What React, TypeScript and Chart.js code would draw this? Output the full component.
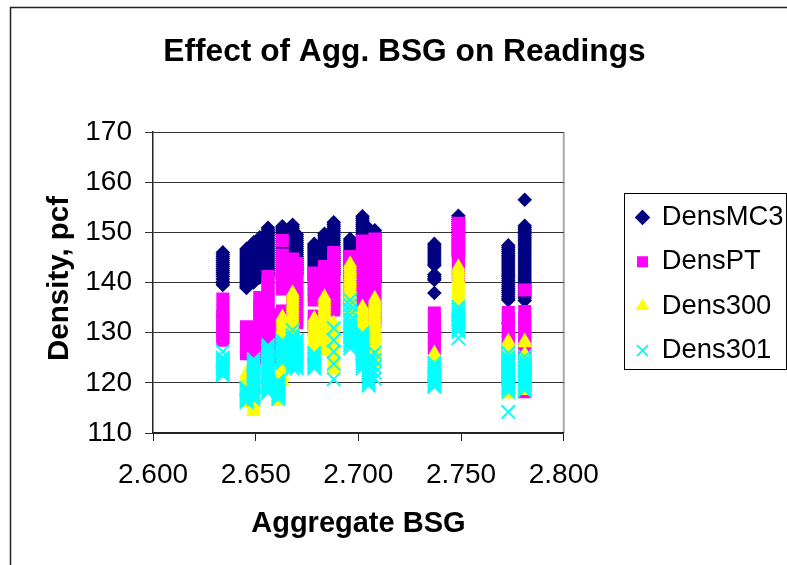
import React, { useEffect, useRef } from "react";
import { Chart, registerables } from "chart.js";

Chart.register(...registerables);

const titleText = "Effect of Agg. BSG on Readings";
const xTitle = "Aggregate BSG";
const yTitle = "Density, pcf";

const bsgColumns = [2.634, 2.6455, 2.649, 2.652, 2.656, 2.659, 2.661, 2.663, 2.668, 2.67, 2.6785, 2.6835, 2.688, 2.696, 2.702, 2.705, 2.708, 2.737, 2.7487, 2.773, 2.781];

const densMC3 = [
  [146, 145.6, 145.2, 144.8, 144.4, 144, 143.6, 143.2, 142.8, 142.4, 142, 141.6, 141.2, 140.7, 140.2, 139.9, 139.5],
  [146.7, 146.3, 145.9, 145.5, 145.1, 144.7, 144.3, 143.9, 143.5, 143.1, 142.7, 142.3, 141.9, 141.5, 141.1, 140.7, 140.3, 139.9, 139.5, 139.2, 138.9],
  [148, 147.6, 147.2, 146.8, 146.4, 146, 145.6, 145.2, 144.8, 144.4, 144, 143.6, 143.2, 142.8, 142.4, 142, 141.6, 141.2, 140.8, 140.4, 140],
  [149, 148.6, 148.2, 147.8, 147.4, 147, 146.6, 146.2, 145.8, 145.4, 145, 144.6, 144.2, 143.8, 143.4, 143, 142.6, 142.2, 141.8, 141.4, 141],
  [150.9, 150.5, 150.1, 149.7, 149.3, 148.9, 148.5, 148.1, 147.7, 147.3, 146.9, 146.5, 146.1, 145.7, 145.3, 144.9, 144.5, 144.1, 143.7, 143.3, 142.9, 142.5, 142.1, 141.7, 141.3],
  [],
  [],
  [151.2, 150.8, 150.4, 150, 149.6, 149.2, 148.8, 148.4, 148, 147.6, 147.2, 146.8, 146.4, 146, 145.6, 145.2, 144.8, 144.4, 144, 143.6, 143.2, 142.8, 142.4, 142, 141.6, 141.2, 140.8],
  [151.5, 151.1, 150.7, 150.3, 149.9, 149.5, 149.1, 148.7, 148.3, 147.9, 147.5, 147.1, 146.7, 146.3, 145.9, 145.5, 145.1, 144.7, 144.3, 143.9, 143.5, 143.1, 142.7, 142.3, 141.9, 141.5, 141],
  [149.6, 149.2, 148.8, 148.4, 148, 147.6, 147.2, 146.8, 146.4, 146, 145.6, 145.2, 144.8, 144.4, 144, 143.6, 143.2, 142.8, 142.4, 142, 141.6],
  [147.7, 147.3, 146.9, 146.5, 146.1, 145.7, 145.3, 144.9, 144.5, 144.1, 143.7, 143.3, 142.9, 142.5, 142.1, 141.7, 141.3, 140.9, 140.5],
  [149.7, 149.3, 148.9, 148.5, 148.1, 147.7, 147.3, 146.9, 146.5, 146.1, 145.7, 145.3, 144.9, 144.5, 144.1, 143.7, 143.3, 142.9, 142.5, 142.1, 141.7],
  [152, 151.6, 151.2, 150.8, 150.4, 150, 149.6, 149.2, 148.8, 148.4, 148, 147.6, 147.2, 146.8, 146.4, 146, 145.6, 145.2, 144.8, 144.4, 144, 143.6, 143.2, 142.8, 142.4, 142, 141.6],
  [148.7, 148.3, 147.9, 147.5, 147.1, 146.7, 146.3, 145.9, 145.5, 145.1, 144.7, 144.3, 143.9, 143.5, 143.1, 142.7, 142.3, 141.9, 141.5, 141.1, 140.7],
  [153.2, 152.8, 152.4, 152, 151.6, 151.2, 150.8, 150.4, 150, 149.6, 149.2, 148.8, 148.4, 148, 147.6, 147.2, 146.8, 146.4, 146, 145.6, 145.2, 144.8, 144.4, 144, 143.6, 143.2, 142.8, 142.4, 142],
  [150.8, 150.4, 150, 149.6, 149.2, 148.8, 148.4, 148, 147.6, 147.2, 146.8, 146.4, 146],
  [150.4, 150, 149.6, 149.2, 148.8, 148.4, 148, 147.6, 147.2, 146.8, 146.4, 146, 145.6, 145.2, 144.8, 144.4, 144, 143.6, 143.2, 142.8, 142.4, 142, 141.6, 141.2, 140.8, 140.4, 140.2],
  [147.7, 147.3, 146.9, 146.5, 146.1, 145.7, 145.3, 144.9, 144.5, 144.1, 143.7, 143.4, 141.6, 141.2, 140.8, 140.5, 137.9],
  [153.3, 152.9, 152.5, 152.1, 151.7, 151.3, 150.9, 150.5, 150.1, 149.7, 149.3, 148.9, 148.5, 148.1, 147.7, 147.3, 146.9, 146.5, 146.1, 145.7, 145.3],
  [147.4, 147, 146.6, 146.2, 145.8, 145.4, 145.1, 144.7, 144.3, 143.9, 143.5, 143.1, 142.7, 142.3, 141.9, 141.5, 141.2, 140.8, 140.4, 140, 139.6, 139.2, 138.8, 138.4, 138, 137.6, 137.2, 136.8, 136.5, 131.9],
  [156.5, 151.3, 150.9, 150.5, 150.1, 149.7, 149.3, 148.9, 148.5, 148.1, 147.7, 147.3, 146.9, 146.5, 146.1, 145.7, 145.3, 144.9, 144.5, 144.1, 143.7, 143.3, 142.9, 142.5, 142.1, 141.7, 141.3, 140.9, 140.5, 140.1, 139.7, 139.3, 138.9, 138.5, 138.1, 137.7, 137.3, 136.9, 136.4],
];

const densPT = [
  [136.7, 134.3, 133.3, 132.3, 131.3, 130.3, 129.3, 128.5],
  [131.2, 130.2, 129.2, 128.2, 127.2, 126.4, 125.8],
  [131, 129, 127, 125.2, 124, 123, 122.1],
  [137, 135.8, 134.6, 133.4, 132.2, 131, 129.8, 128.6, 127.4, 126.2, 125],
  [141.2, 140, 138.8, 137.6, 136.4, 135.2, 134, 132.8, 131.6, 130.4, 129.2, 128],
  [133.5, 132, 130.5, 129, 127.5, 126, 125],
  [],
  [148.4, 145.5, 144.3, 143.1, 141.9, 140.7, 139.5, 138.7, 134.3, 133, 131.7, 130.4, 129.1, 127.8, 126.5, 125.2],
  [144.7, 143.5, 142.3, 141.1, 139.9, 138.7, 137.5, 136.3, 135.1, 133.9, 132.7, 131.5, 130.3],
  [143.8, 142.6, 141.4, 140.2, 139, 137.8, 136.6, 135.4, 134.2, 133, 132],
  [141.9, 140.8, 139.7, 138.6, 137.5, 136.5, 133.3, 132, 130.8],
  [143.2, 142, 140.8, 139.6, 138.4, 137.2, 136.5],
  [146, 144.8, 143.6, 142.4, 141.2, 140, 138.8, 137.6, 136.4, 135.2, 134.5],
  [145.2, 144, 142.8, 141.6, 140.4, 139.2, 138, 136.8, 135.6, 135],
  [148.3, 147.1, 145.9, 144.7, 143.5, 142.3, 141.1, 139.9, 138.7, 137.5, 136.3],
  [],
  [148.7, 147.5, 146.3, 145.1, 143.9, 142.7, 141.5, 140.3, 139.1, 137.9, 136.7, 135.5, 134.3, 133.1, 132.2],
  [133.9, 132.7, 131.5, 130.3, 129.1, 127.9, 126.7],
  [151.8, 150.6, 149.4, 148.2, 147, 145.8, 144.6, 143.4, 142.2, 141.4],
  [134, 132.8, 131.6, 130.4, 129.2, 128, 126.8, 125.6, 124.4, 123.2, 122, 120.8, 120.4],
  [138.5, 134.2, 133, 131.8, 130.6, 129.4, 128.2, 127, 125.8, 124.6, 123.4, 122.2, 121, 119.8, 118.6, 118.2],
];

const dens300 = [
  [],
  [122, 121.4, 120.8, 120.2, 119.6, 119, 118.4, 117.8, 117.2, 116.6, 116],
  [122, 121.4, 120.8, 120.2, 119.6, 119, 118.4, 117.8, 117.2, 116.6, 116, 115.4, 114.8, 114.2],
  [],
  [121.6, 121.1, 120.6, 120.2, 119.8],
  [],
  [121, 120.5, 120, 119.5, 119, 118.5, 118, 117.5, 117, 116.6, 116.2],
  [133.2, 132.7, 132.2, 131.7, 131.2, 130.7, 130.2, 129.7, 129.2, 128.7, 128.2, 127.7, 127.2, 126.7, 126.2, 125.7, 125.2, 124.6, 124, 123.4, 122.8, 122.2, 121.6, 121, 120.4],
  [138, 137.5, 137, 136.5, 136, 135.5, 135, 134.5, 134, 133.5, 133, 132.5, 132, 131.5, 131, 130.5, 130, 129.5, 129, 128.5, 128, 127.5, 127, 126.5, 126, 125.5, 125],
  [],
  [132.9, 132.4, 131.9, 131.4, 130.9, 130.4, 129.9, 129.4, 128.9, 128.4, 128, 127.5, 127.1, 126.6, 126.2, 125.8, 125.4],
  [137.2, 136.7, 136.2, 135.7, 135.2, 134.7, 134.2, 133.7, 133.2, 132.7, 132.2, 131.7, 131.2, 130.7, 130.2, 129.7, 129.2, 128.7, 128.2, 127.7, 127.2, 126.7, 126.2],
  [132, 131.5, 131, 130.5, 130, 129.5, 129, 128.5, 128, 127.5, 127, 126.5, 126, 125.5, 125, 124.5, 124, 123.5, 123, 122.5],
  [143.8, 143.3, 142.8, 142.3, 141.8, 141.3, 140.8, 140.3, 139.8, 139.3, 138.8, 138.3, 137.8, 137.3, 136.8, 136.3, 135.8, 135.3, 134.8, 134.3, 133.8, 133.3, 132.8, 132.3, 131.8, 131.3, 130.8],
  [135.2, 134.7, 134.2, 133.7, 133.2, 132.7, 132.2, 131.7, 131.2, 130.7, 130.2, 129.7, 129.2, 128.7, 128.2],
  [],
  [136.9, 136.4, 135.9, 135.4, 134.9, 134.4, 133.9, 133.4, 132.9, 132.4, 131.9, 131.4, 130.9, 130.4, 129.9, 129.4, 129, 128.5, 128, 127.5, 127, 126.5, 126, 125.5, 125, 124.5, 124],
  [126, 125.5, 125, 124.5, 124, 123.5, 123, 122.6, 122.2],
  [143.2, 142.7, 142.2, 141.7, 141.2, 140.7, 140.2, 139.8, 139.4, 139, 138.6, 138.2, 137.8, 137.4, 137.1, 136.7, 136.3],
  [128.4, 127.9, 127.4, 126.9, 126.4, 125.9, 125.4, 124.9, 124.4, 123.9, 123.4, 122.9, 122.4, 121.9, 121.4, 120.9, 120.4, 119.9, 119.4, 118.9, 118.4, 118, 117.7],
  [128.4, 127.9, 125.8, 125.3, 124.8, 124.3, 123.8, 123.3, 122.8, 122.3, 121.8, 121.3, 120.8, 120.3, 119.8, 119.3, 118.8, 118.4],
];

const dens301 = [
  [126.2, 125, 124.6, 124.2, 123.8, 123.4, 123, 122.6, 122.2, 121.8, 121.5],
  [119, 118.6, 118.2, 117.8, 117.4, 117, 116.6, 116.2],
  [124.7, 124.2, 123.7, 123.2, 122.7, 122.2, 121.7, 121.2, 120.7, 120.2, 119.7, 119.2, 118.7, 118.2, 117.7, 117.2, 116.7],
  [],
  [127.5, 127, 126.5, 126, 125.5, 125, 124.5, 124, 123.5, 123, 122.5, 122, 121.5, 121, 120.5, 120, 119.6, 119.2, 118.8, 118.4, 118],
  [],
  [120.5, 120.1, 119.7, 119.3, 118.9, 118.5, 118.1, 117.7, 117.3, 116.8],
  [128.5, 128, 127.5, 127, 126.5, 126, 125.6, 125.2, 124.8, 124.4, 124],
  [130.5, 129.5, 128.9, 128.4, 127.9, 127.4, 126.9, 126.4, 125.9, 125.4, 124.9, 124.4, 123.9, 123.4, 122.9],
  [128.5, 127.9, 127.4, 126.9, 126.4, 125.9, 125.4, 124.9, 124.4, 123.9, 123.4, 122.9],
  [125.9, 125.4, 124.9, 124.5, 124.1, 123.7, 123.3, 122.9],
  [],
  [130.9, 128.5, 126.2, 123.8, 120.7],
  [136.5, 135.5, 134.5, 133.5, 132.5, 132, 131.5, 131, 130.5, 130, 129.5, 129, 128.5, 128, 127.5, 126.9],
  [129.9, 129.4, 128.9, 128.4, 127.9, 127.4, 126.9, 126.4, 125.9, 125.4, 124.9, 124.4, 123.9, 123.4, 122.9],
  [125, 124.5, 124, 123.5, 123, 122.5, 122, 121.5, 121, 120.5, 120, 119.5],
  [126, 124.6, 123.2, 122, 120.8],
  [123.9, 123.4, 122.9, 122.4, 121.9, 121.4, 120.9, 120.4, 119.9, 119.5, 119.2],
  [135.1, 134.6, 134.1, 133.6, 133.1, 132.6, 132.1, 131.6, 131.1, 130.6, 130.2, 128.9],
  [125.9, 125, 124.5, 124, 123.5, 123, 122.5, 122, 121.5, 121, 120.5, 120, 119.5, 119.1, 118.7, 118.2, 114.2],
  [125.2, 124.5, 124, 123.5, 123, 122.5, 122, 121.5, 121, 120.5, 120, 119.5, 119, 118.5],
];

const yTicks = { min: 110, max: 170, step: 10 };
const xTicks = { min: 2.6, max: 2.8, step: 0.05 };

const toPoints = (cols: number[][]) =>
  cols.flatMap((vals, i) => vals.map((y) => ({ x: bsgColumns[i], y })));

const FONT = "'Liberation Sans', Arial, sans-serif";

const framePlugin = {
  id: "frame",
  beforeDraw(chart: any) {
    const c = chart.ctx;
    c.save();
    c.strokeStyle = "#222";
    c.lineWidth = 1.5;
    c.beginPath();
    c.moveTo(10.5, 565);
    c.lineTo(10.5, 7.5);
    c.lineTo(787, 7.5);
    c.stroke();
    const a = chart.chartArea;
    c.strokeStyle = "#aaa";
    c.lineWidth = 2;
    c.beginPath();
    c.moveTo(a.right, a.top);
    c.lineTo(a.right, a.bottom);
    c.stroke();
    c.restore();
  },
  afterLayout(chart: any) {
    chart.legend.left = 620;
    chart.legend.right = 787;
    chart.legend.top += 1.5;
    chart.legend.bottom += 1.5;
  },
  afterDraw(chart: any) {
    const c = chart.ctx;
    c.save();
    c.strokeStyle = "#000";
    c.lineWidth = 1;
    c.strokeRect(624.5, 193.5, 162, 176);
    c.restore();
  },
};

export default function App() {
  const ref = useRef<HTMLCanvasElement>(null);
  useEffect(() => {
    document.body.style.margin = "0";
    const mk = (label: string, cols: number[][], style: string, color: string, radius: number, bw: number, order: number) => ({
      label,
      data: toPoints(cols),
      pointStyle: style,
      pointRadius: radius,
      pointBackgroundColor: color,
      pointBorderColor: color,
      backgroundColor: color,
      borderColor: color,
      pointBorderWidth: bw,
      borderWidth: bw,
      showLine: false,
      order,
    });
    const chart = new Chart(ref.current!, {
      type: "scatter",
      data: {
        datasets: [
          mk("DensMC3", densMC3, "rectRot", "#000080", 7.3, 0, 4),
          mk("DensPT", densPT, "rect", "#FF00FF", 9.2, 0, 3),
          mk("Dens300", dens300, "triangle", "#FFFF00", 8.2, 0, 2),
          mk("Dens301", dens301, "crossRot", "#00FFFF", 9.5, 2, 1),
        ],
      },
      plugins: [framePlugin],
      options: {
        animation: false,
        responsive: false,
        layout: { padding: { left: 86, right: 64, top: 0, bottom: 0 } },
        plugins: {
          title: {
            display: true,
            text: titleText,
            color: "#000",
            font: { family: FONT, size: 31.7, weight: "bold" },
            padding: { top: 33, bottom: 61 },
          },
          legend: {
            display: true,
            position: "right",
            labels: {
              color: "#000",
              font: { family: FONT, size: 27.4 },
              usePointStyle: true,
              boxWidth: 11,
              boxHeight: 11,
              padding: 17,
              sort: (a: any, b: any) => a.datasetIndex - b.datasetIndex,
            },
          },
          tooltip: { enabled: false },
        },
        scales: {
          x: {
            type: "linear",
            min: xTicks.min,
            max: xTicks.max,
            afterFit: (s: any) => { s.height = 132; },
            border: { color: "#222", width: 1.5 },
            grid: { drawOnChartArea: false, color: "#222", tickLength: 8, tickWidth: 1 },
            ticks: {
              stepSize: xTicks.step,
              color: "#000",
              font: { family: FONT, size: 28 },
              padding: 17,
              maxRotation: 0,
              callback: (v: any) => Number(v).toFixed(3),
            },
            title: {
              display: true,
              text: xTitle,
              color: "#000",
              font: { family: FONT, size: 29, weight: "bold" },
              padding: { top: 8, bottom: 24 },
            },
          },
          y: {
            type: "linear",
            min: yTicks.min,
            max: yTicks.max,
            afterFit: (s: any) => { s.width = 67; },
            border: { color: "#222", width: 1.5 },
            grid: { color: "#333", tickLength: 8, lineWidth: 1 },
            ticks: {
              stepSize: yTicks.step,
              color: "#000",
              font: { family: FONT, size: 28 },
              padding: 13,
            },
            title: {
              display: true,
              text: " " + yTitle,
              color: "#000",
              font: { family: FONT, size: 29.5, weight: "bold" },
              padding: { top: -44, bottom: 0 },
            },
          },
        },
      },
    } as any);
    return () => chart.destroy();
  }, []);
  return <canvas ref={ref} width={787} height={565} style={{ display: "block" }} />;
}
